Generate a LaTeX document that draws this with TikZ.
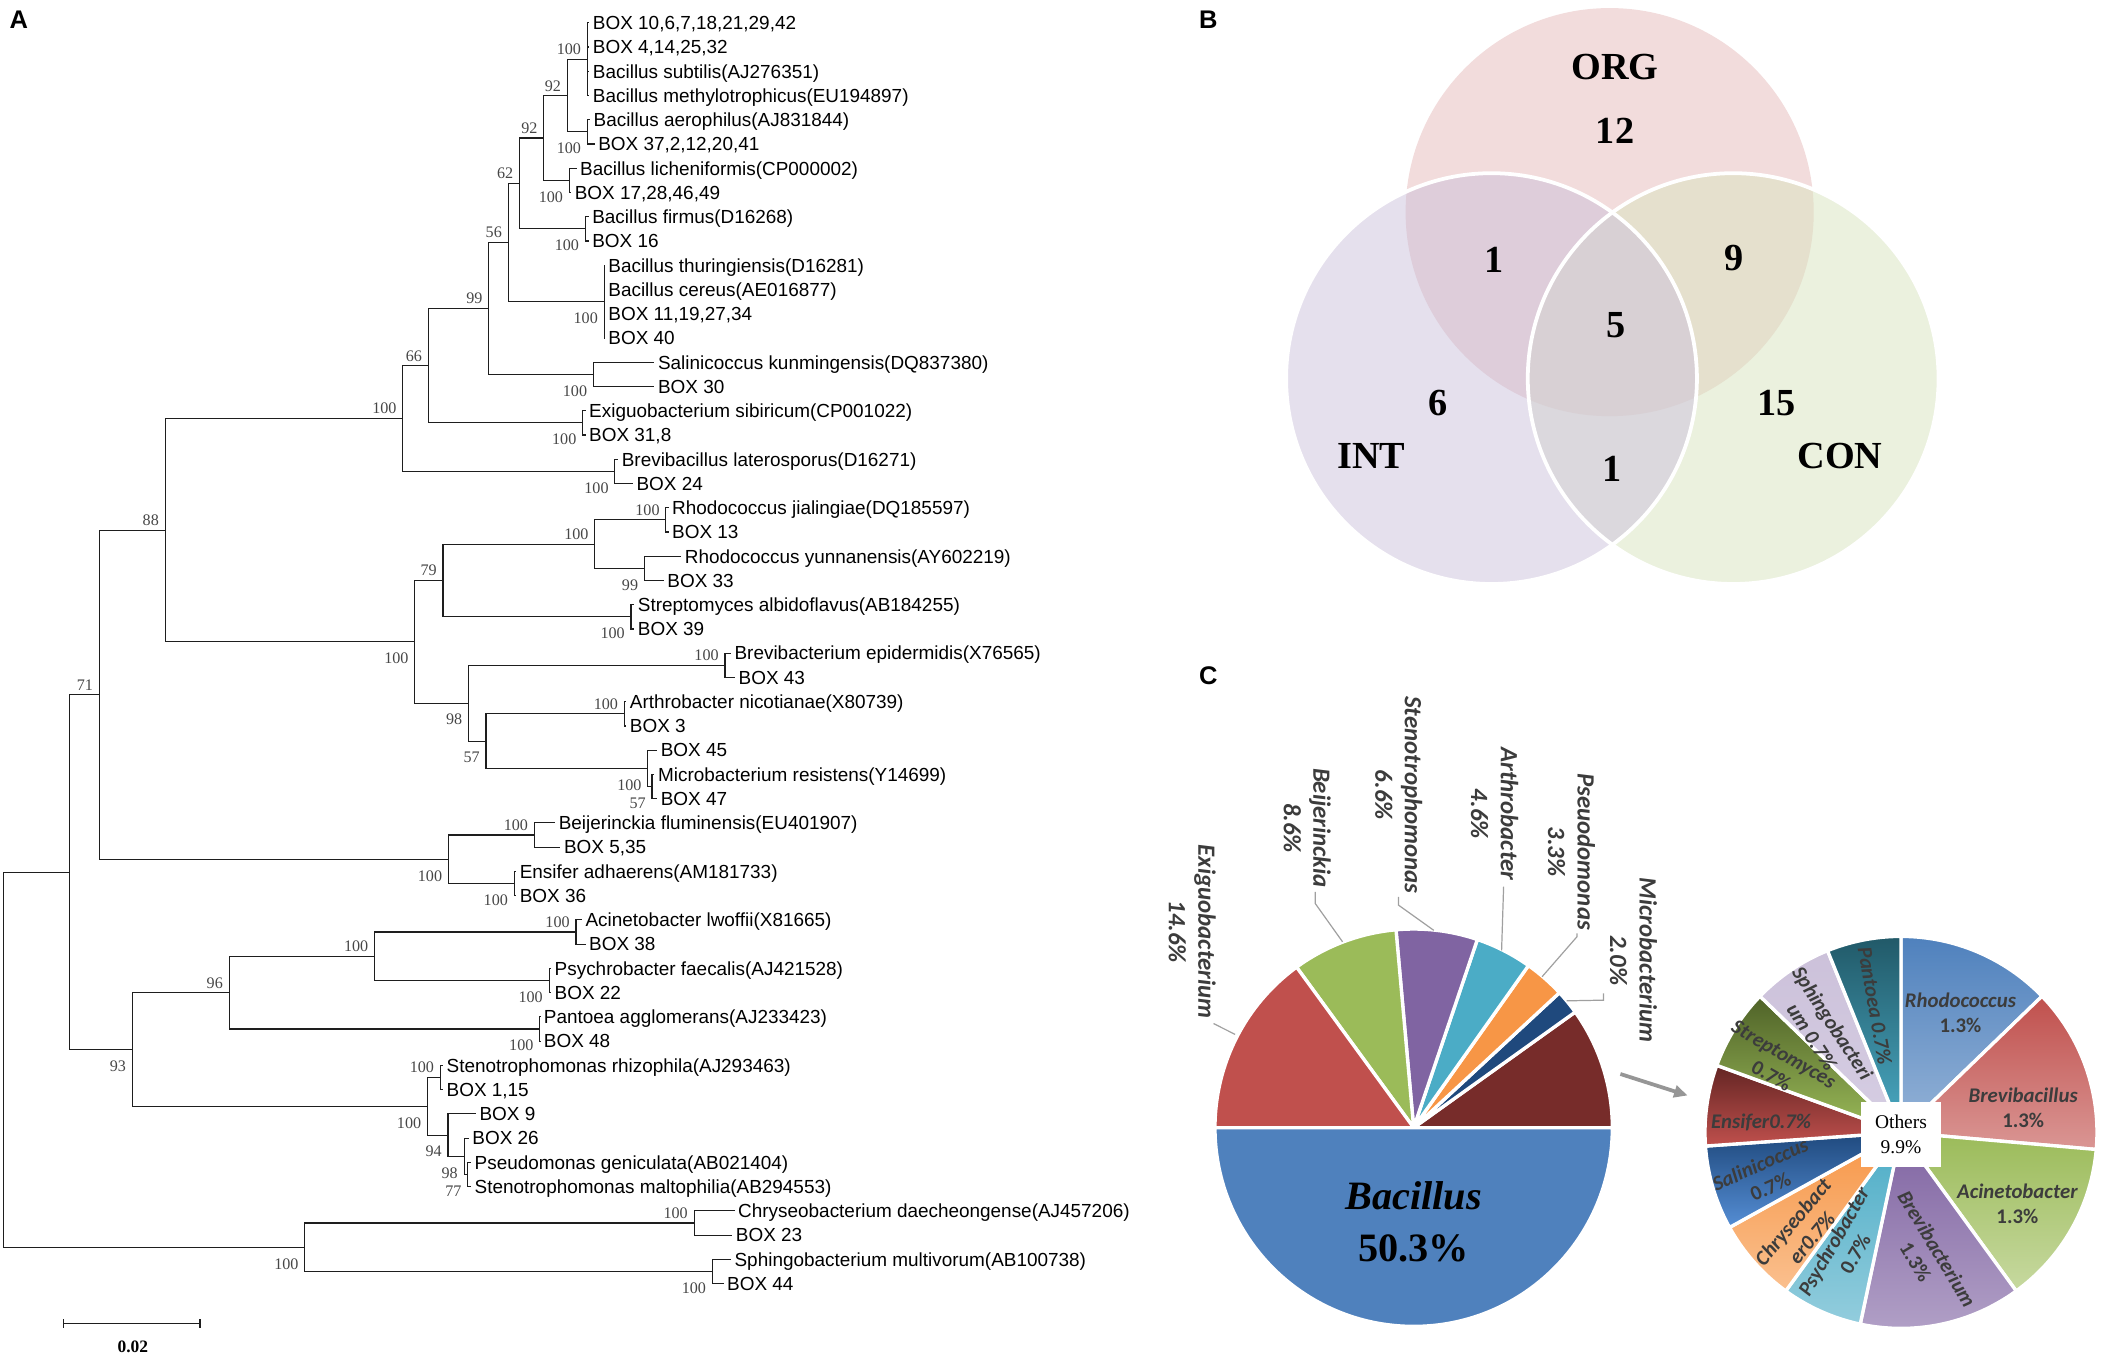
\documentclass[tikz,border=0pt]{standalone}
\usepackage{fontspec}
\setmainfont{Liberation Serif}
\newfontfamily\arialf{Liberation Sans}
\newfontfamily\calf{Carlito}
\usetikzlibrary{arrows.meta}
\definecolor{treeline}{RGB}{30,30,30}
\definecolor{bsgray}{RGB}{70,70,70}
\definecolor{vORG}{RGB}{242,220,220}
\definecolor{vINT}{RGB}{229,224,237}
\definecolor{vCON}{RGB}{235,241,222}
\definecolor{vOI}{RGB}{222,205,218}
\definecolor{vOC}{RGB}{229,224,205}
\definecolor{vIC}{RGB}{219,216,221}
\definecolor{vALL}{RGB}{216,208,212}
\definecolor{pBac}{RGB}{79,129,189}
\definecolor{pExi}{RGB}{192,80,77}
\definecolor{pBei}{RGB}{155,187,89}
\definecolor{pSte}{RGB}{128,100,162}
\definecolor{pArt}{RGB}{75,172,198}
\definecolor{pPse}{RGB}{247,150,70}
\definecolor{pMic}{RGB}{31,73,125}
\definecolor{pOth}{RGB}{119,44,42}
\definecolor{plab}{RGB}{60,60,60}
\definecolor{leadgray}{RGB}{160,160,160}
\definecolor{arrowgray}{RGB}{150,150,150}
\definecolor{rRhoT}{RGB}{79,129,189}\definecolor{rRhoB}{RGB}{149,179,215}
\definecolor{rBrvT}{RGB}{192,80,77}\definecolor{rBrvB}{RGB}{218,150,148}
\definecolor{rAciT}{RGB}{155,187,89}\definecolor{rAciB}{RGB}{199,217,160}
\definecolor{rBtmT}{RGB}{128,100,162}\definecolor{rBtmB}{RGB}{178,161,199}
\definecolor{rPsyT}{RGB}{75,172,198}\definecolor{rPsyB}{RGB}{147,205,221}
\definecolor{rChrT}{RGB}{247,150,70}\definecolor{rChrB}{RGB}{250,192,143}
\definecolor{rSalT}{RGB}{31,73,125}\definecolor{rSalB}{RGB}{85,142,213}
\definecolor{rEnsT}{RGB}{99,37,35}\definecolor{rEnsB}{RGB}{192,80,77}
\definecolor{rStrT}{RGB}{79,98,40}\definecolor{rStrB}{RGB}{155,187,89}
\definecolor{rSphT}{RGB}{204,193,218}\definecolor{rSphB}{RGB}{214,206,227}
\definecolor{rPanT}{RGB}{33,89,104}\definecolor{rPanB}{RGB}{75,172,198}
\newcommand{\mslice}[3]{\filldraw[fill=#3, draw=white, line width=2.5pt] (1053,840) -- ++(#1:148pt) arc[start angle=#1, end angle=#2, radius=148pt] -- cycle;}
\newcommand{\rslice}[4]{\shadedraw[top color=#3, bottom color=#4, draw=white, line width=2.5pt] (1416,843.5) -- ++(#1:146pt) arc[start angle=#1, end angle=#2, radius=146pt] -- cycle;}
\begin{document}
\begin{tikzpicture}[x=1pt,y=-1pt,
  br/.style={draw=treeline, line width=0.85pt},
  leaf/.style={anchor=west, inner xsep=2.5pt, inner ysep=0pt, text height=10.1pt, text depth=0pt, font=\arialf\fontsize{14.1}{16}\selectfont},
  bsa/.style={anchor=east, inner sep=0pt, xshift=-4.5pt, yshift=7.3pt, text=bsgray, font=\fontsize{12}{14}\selectfont},
  bsb/.style={anchor=east, inner sep=0pt, xshift=-4.5pt, yshift=-12.3pt, text=bsgray, font=\fontsize{12}{14}\selectfont},
  panel/.style={font=\arialf\bfseries\fontsize{19}{22}\selectfont, inner sep=0pt},
  venn/.style={font=\bfseries\fontsize{28.5}{30}\selectfont, inner sep=0pt},
  mlab/.style={font=\calf\bfseries\itshape\fontsize{18.5}{22}\selectfont, text=plab, rotate=-90, align=center, inner sep=0pt},
  rlab/.style={font=\calf\bfseries\itshape\fontsize{15.5}{18.5}\selectfont, text=plab, align=center, inner sep=0pt},
  lead/.style={draw=leadgray, line width=0.9pt}]
\useasboundingbox (0,0) rectangle (1565,1010.8);

% ---------------- Panel A: tree ----------------
\node[panel] (pA) at (14,15) {A};
\begin{scope}[shift={(0,17)}, y=-18.06pt]
\coordinate (nA) at (437.5,1.5);
\coordinate (nB) at (437.5,4.5);
\coordinate (n92u) at (422.5,3);
\coordinate (nL) at (424,6.5);
\coordinate (n92l) at (405,4.75);
\coordinate (nF) at (436,8.5);
\coordinate (n62) at (387,6.625);
\coordinate (nCe) at (450,11.5);
\coordinate (n56) at (378.5,9.0625);
\coordinate (nSa) at (442,14.5);
\coordinate (n99) at (364,11.78);
\coordinate (nEx) at (434,16.5);
\coordinate (n66) at (319,14.14);
\coordinate (nBr) at (458,18.5);
\coordinate (n100a) at (300,16.32);
\coordinate (nRj) at (496,20.5);
\coordinate (nRy) at (480,22.5);
\coordinate (nRh) at (443,21.5);
\coordinate (nSt) at (470,24.5);
\coordinate (n79) at (330,23);
\coordinate (nBv) at (540,26.5);
\coordinate (nAr) at (465,28.5);
\coordinate (nMi2) at (485.7,31.5);
\coordinate (nMi) at (482.5,30.75);
\coordinate (n57) at (362,29.625);
\coordinate (n98) at (349,28.06);
\coordinate (n100b) at (309,25.53);
\coordinate (n88) at (123,20.93);
\coordinate (nBe) at (398,33.5);
\coordinate (nEn) at (383,35.5);
\coordinate (n100c) at (334,34.5);
\coordinate (n71) at (74,27.71);
\coordinate (nAc) at (429,37.5);
\coordinate (nPs) at (409,39.5);
\coordinate (n100d) at (279,38.5);
\coordinate (nPa) at (402,41.5);
\coordinate (n96) at (170.7,40);
\coordinate (nSr) at (328,43.5);
\coordinate (nM) at (348.4,47.5);
\coordinate (n98b) at (345.7,46.75);
\coordinate (n94) at (333.7,45.875);
\coordinate (n100e) at (318.4,44.69);
\coordinate (n93) at (98.5,42.34);
\coordinate (nX) at (52,35.03);
\coordinate (nCh) at (517,49.5);
\coordinate (nSp) at (530.6,51.5);
\coordinate (n100f) at (227,50.5);
\coordinate (nR) at (2.7,42.76);

\node[leaf] (t1) at (439,0) {BOX 10,6,7,18,21,29,42};
\node[leaf] (t2) at (439,1) {BOX 4,14,25,32};
\node[leaf] (t3) at (439,2) {Bacillus subtilis(AJ276351)};
\node[leaf] (t4) at (439,3) {Bacillus methylotrophicus(EU194897)};
\node[leaf] (t5) at (439.5,4) {Bacillus aerophilus(AJ831844)};
\node[leaf] (t6) at (443,5) {BOX 37,2,12,20,41};
\node[leaf] (t7) at (429.5,6) {Bacillus licheniformis(CP000002)};
\node[leaf] (t8) at (425.5,7) {BOX 17,28,46,49};
\node[leaf] (t9) at (438.5,8) {Bacillus firmus(D16268)};
\node[leaf] (t10) at (438.5,9) {BOX 16};
\node[leaf] (t11) at (450.5,10) {Bacillus thuringiensis(D16281)};
\node[leaf] (t12) at (450.5,11) {Bacillus cereus(AE016877)};
\node[leaf] (t13) at (450.5,12) {BOX 11,19,27,34};
\node[leaf] (t14) at (450.5,13) {BOX 40};
\node[leaf] (t15) at (487.5,14) {Salinicoccus kunmingensis(DQ837380)};
\node[leaf] (t16) at (487.5,15) {BOX 30};
\node[leaf] (t17) at (436.2,16) {Exiguobacterium sibiricum(CP001022)};
\node[leaf] (t18) at (436.2,17) {BOX 31,8};
\node[leaf] (t19) at (460.5,18) {Brevibacillus laterosporus(D16271)};
\node[leaf] (t20) at (471.5,19) {BOX 24};
\node[leaf] (t21) at (498,20) {Rhodococcus jialingiae(DQ185597)};
\node[leaf] (t22) at (498,21) {BOX 13};
\node[leaf] (t23) at (507.5,22) {Rhodococcus yunnanensis(AY602219)};
\node[leaf] (t24) at (494.5,23) {BOX 33};
\node[leaf] (t25) at (472.5,24) {Streptomyces albidoflavus(AB184255)};
\node[leaf] (t26) at (472.5,25) {BOX 39};
\node[leaf] (t27) at (544.5,26) {Brevibacterium epidermidis(X76565)};
\node[leaf] (t28) at (547.5,27) {BOX 43};
\node[leaf] (t29) at (466.5,28) {Arthrobacter nicotianae(X80739)};
\node[leaf] (t30) at (466.5,29) {BOX 3};
\node[leaf] (t31) at (489.5,30) {BOX 45};
\node[leaf] (t32) at (487.5,31) {Microbacterium resistens(Y14699)};
\node[leaf] (t33) at (489.5,32) {BOX 47};
\node[leaf] (t34) at (413.5,33) {Beijerinckia fluminensis(EU401907)};
\node[leaf] (t35) at (417.5,34) {BOX 5,35};
\node[leaf] (t36) at (384.5,35) {Ensifer adhaerens(AM181733)};
\node[leaf] (t37) at (384.5,36) {BOX 36};
\node[leaf] (t38) at (433.5,37) {Acinetobacter lwoffii(X81665)};
\node[leaf] (t39) at (436.2,38) {BOX 38};
\node[leaf] (t40) at (410.5,39) {Psychrobacter faecalis(AJ421528)};
\node[leaf] (t41) at (410.5,40) {BOX 22};
\node[leaf] (t42) at (402.5,41) {Pantoea agglomerans(AJ233423)};
\node[leaf] (t43) at (402.5,42) {BOX 48};
\node[leaf] (t44) at (330,43) {Stenotrophomonas rhizophila(AJ293463)};
\node[leaf] (t45) at (330,44) {BOX 1,15};
\node[leaf] (t46) at (354.5,45) {BOX 9};
\node[leaf] (t47) at (349.2,46) {BOX 26};
\node[leaf] (t48) at (350.9,47) {Pseudomonas geniculata(AB021404)};
\node[leaf] (t49) at (350.9,48) {Stenotrophomonas maltophilia(AB294553)};
\node[leaf] (t50) at (547.2,49) {Chryseobacterium daecheongense(AJ457206)};
\node[leaf] (t51) at (545.5,50) {BOX 23};
\node[leaf] (t52) at (544.5,51) {Sphingobacterium multivorum(AB100738)};
\node[leaf] (t53) at (539,52) {BOX 44};

\foreach \p/\c in {nA/t1.west,nA/t2.west,nA/t3.west,nA/t4.west,nB/t5.west,nB/t6.west,
  n92u/nA,n92u/nB,nL/t7.west,nL/t8.west,n92l/n92u,n92l/nL,nF/t9.west,nF/t10.west,
  n62/n92l,n62/nF,nCe/t11.west,nCe/t12.west,nCe/t13.west,nCe/t14.west,n56/n62,n56/nCe,
  nSa/t15.west,nSa/t16.west,n99/n56,n99/nSa,nEx/t17.west,nEx/t18.west,n66/n99,n66/nEx,
  nBr/t19.west,nBr/t20.west,n100a/n66,n100a/nBr,nRj/t21.west,nRj/t22.west,
  nRy/t23.west,nRy/t24.west,nRh/nRj,nRh/nRy,nSt/t25.west,nSt/t26.west,n79/nRh,n79/nSt,
  nBv/t27.west,nBv/t28.west,nAr/t29.west,nAr/t30.west,nMi2/t32.west,nMi2/t33.west,
  nMi/t31.west,nMi/nMi2,n57/nAr,n57/nMi,n98/nBv,n98/n57,n100b/n79,n100b/n98,
  n88/n100a,n88/n100b,nBe/t34.west,nBe/t35.west,nEn/t36.west,nEn/t37.west,
  n100c/nBe,n100c/nEn,n71/n88,n71/n100c,nAc/t38.west,nAc/t39.west,nPs/t40.west,nPs/t41.west,
  n100d/nAc,n100d/nPs,nPa/t42.west,nPa/t43.west,n96/n100d,n96/nPa,nSr/t44.west,nSr/t45.west,
  nM/t48.west,nM/t49.west,n98b/t47.west,n98b/nM,n94/t46.west,n94/n98b,n100e/nSr,n100e/n94,
  n93/n96,n93/n100e,nX/n71,nX/n93,nCh/t50.west,nCh/t51.west,nSp/t52.west,nSp/t53.west,
  n100f/nCh,n100f/nSp,nR/nX,nR/n100f}
  \draw[br] (\p) |- (\c);

\foreach \n/\v in {nA/100,n92u/92,n92l/92,n62/62,n56/56,n99/99,n66/66,n100a/100,n88/88,
  nRj/100,nRh/100,n79/79,nBv/100,nAr/100,nBe/100,n71/71,nAc/100,n100d/100,n96/96,nSr/100,nCh/100}
  \node[bsa] (b\n) at (\n) {\v};
\foreach \n/\v in {nB/100,nL/100,nF/100,nCe/100,nSa/100,nEx/100,nBr/100,nRy/99,nSt/100,
  n100b/100,n98/98,n57/57,nMi/100,nMi2/57,n100c/100,nEn/100,nPs/100,nPa/100,n93/93,
  n100e/100,n94/94,n98b/98,nM/77,n100f/100,nSp/100}
  \node[bsb] (b\n) at (\n) {\v};
\end{scope}

% scale bar
\coordinate (sb1) at (47,986);
\coordinate (sb2) at (149,986);
\draw[br] (sb1) -- (sb2);
\draw[br] ([yshift=3.5pt]sb1) -- ([yshift=-3.5pt]sb1);
\draw[br] ([yshift=3.5pt]sb2) -- ([yshift=-3.5pt]sb2);
\node[font=\bfseries\fontsize{13}{15}\selectfont, inner sep=0pt] (sbl) at (99,1003) {0.02};

% ---------------- Panel B: Venn ----------------
\node[panel] (pB) at (900,15) {B};
\fill[vORG] (1199,158) circle[radius=152pt];
\fill[vINT] (1111,282) circle[radius=153pt];
\fill[vCON] (1291,282) circle[radius=153pt];
\begin{scope}
  \clip (1199,158) circle[radius=152pt];
  \fill[vOI] (1111,282) circle[radius=153pt];
  \fill[vOC] (1291,282) circle[radius=153pt];
\end{scope}
\begin{scope}
  \clip (1111,282) circle[radius=153pt];
  \fill[vIC] (1291,282) circle[radius=153pt];
\end{scope}
\begin{scope}
  \clip (1199,158) circle[radius=152pt];
  \clip (1111,282) circle[radius=153pt];
  \fill[vALL] (1291,282) circle[radius=153pt];
\end{scope}
\draw[white, line width=2.8pt] (1111,282) circle[radius=153pt];
\draw[white, line width=2.8pt] (1291,282) circle[radius=153pt];
\node[venn] (vorg) at (1203,50) {ORG};
\node[venn] (v12) at (1203,97.4) {12};
\node[venn] (v1a) at (1113,193.6) {1};
\node[venn] (v9) at (1292,192) {9};
\node[venn] (v5) at (1204,242) {5};
\node[venn] (v6) at (1071,300) {6};
\node[venn] (v15) at (1323,300) {15};
\node[venn] (vint) at (1021.6,340) {INT};
\node[venn] (vcon) at (1370.6,340) {CON};
\node[venn] (v1b) at (1200.7,349) {1};

% ---------------- Panel C: pies ----------------
\node[panel] (pC) at (900,503) {C};
\mslice{0}{35.6}{pOth}
\mslice{35.6}{42.8}{pMic}
\mslice{42.8}{54.7}{pPse}
\mslice{54.7}{71.3}{pArt}
\mslice{71.3}{95.1}{pSte}
\mslice{95.1}{126.1}{pBei}
\mslice{126.1}{180}{pExi}
\mslice{180}{360}{pBac}
\node[font=\bfseries\itshape\fontsize{30}{34}\selectfont, inner sep=0pt] (bac) at (1053,891) {Bacillus};
\node[font=\bfseries\fontsize{30}{34}\selectfont, inner sep=0pt] (bacp) at (1053,930) {50.3\%};

\node[mlab] (mExi) at (888,694) {Exiguobacterium\\14.6\%};
\node[mlab] (mBei) at (973.7,616.8) {Beijerinckia\\8.6\%};
\node[mlab] (mSte) at (1041.8,592.1) {Stenotrophomonas\\6.6\%};
\node[mlab] (mArt) at (1113.3,606.2) {Arthrobacter\\4.6\%};
\node[mlab] (mPse) at (1170.5,634.4) {Pseuodomonas\\3.3\%};
\node[mlab] (mMic) at (1216.7,715.3) {Microbacterium\\2.0\%};

\coordinate (lExi1) at (903.9,762.4); \coordinate (lExi2) at (920,770.5);
\coordinate (lBei1) at (979.7,664.3); \coordinate (lBei2) at (979.7,673); \coordinate (lBei3) at (1000,701.5);
\coordinate (lSte1) at (1041.7,668); \coordinate (lSte2) at (1041.7,674.2); \coordinate (lSte3) at (1068,693);
\coordinate (lArt1) at (1120,660.5); \coordinate (lArt2) at (1118.5,708);
\coordinate (lPse1) at (1174.6,695.3); \coordinate (lPse2) at (1174.6,697.8); \coordinate (lPse3) at (1148.7,727.5);
\coordinate (lMic1) at (1194.4,740); \coordinate (lMic2) at (1194.4,745); \coordinate (lMic3) at (1167,745.5);
\draw[lead] (lExi1) -- (lExi2);
\draw[lead] (lBei1) -- (lBei2) -- (lBei3);
\draw[lead] (lSte1) -- (lSte2) -- (lSte3);
\draw[lead] (lArt1) -- (lArt2);
\draw[lead] (lPse1) -- (lPse2) -- (lPse3);
\draw[lead] (lMic1) -- (lMic2) -- (lMic3);

\coordinate (arS) at (1207,800);
\coordinate (arE) at (1257,816);
\draw[arrowgray, line width=2.8pt, -{Triangle[length=10pt,width=9pt]}] (arS) -- (arE);

\rslice{44}{90}{rRhoT}{rRhoB}
\rslice{-5}{44}{rBrvT}{rBrvB}
\rslice{-54}{-5}{rAciT}{rAciB}
\rslice{-102}{-54}{rBtmT}{rBtmB}
\rslice{-126}{-102}{rPsyT}{rPsyB}
\rslice{-151}{-126}{rChrT}{rChrB}
\rslice{-176}{-151}{rSalT}{rSalB}
\rslice{160}{184}{rEnsT}{rEnsB}
\rslice{136}{160}{rStrT}{rStrB}
\rslice{112}{136}{rSphT}{rSphB}
\rslice{90}{112}{rPanT}{rPanB}

\node[fill=white, minimum width=59pt, minimum height=49pt, align=center, inner sep=0pt, font=\fontsize{14.5}{18}\selectfont] (oth) at (1416,845) {Others\\9.9\%};

\node[rlab] (rRho) at (1460.3,754.5) {Rhodococcus\\{\upshape 1.3\%}};
\node[rlab] (rBrv) at (1507,825) {Brevibacillus\\{\upshape 1.3\%}};
\node[rlab] (rAci) at (1502.7,896.5) {Acinetobacter\\{\upshape 1.3\%}};
\node[rlab, rotate=-59] (rBtm) at (1434.9,935) {Brevibacterium\\{\upshape 1.3\%}};
\node[rlab, rotate=60] (rPsy) at (1373.7,929.4) {Psychrobacter\\{\upshape 0.7\%}};
\node[rlab, rotate=50] (rChr) at (1342.4,916) {Chryseobact\\er0.7\%};
\node[rlab, rotate=24] (rSal) at (1314.9,875.5) {Salinicoccus\\{\upshape 0.7\%}};
\node[rlab] (rEns) at (1311.8,836) {Ensifer0.7\%};
\node[rlab, rotate=-30] (rStr) at (1324.1,793.3) {Streptomyces\\{\upshape 0.7\%}};
\node[rlab, rotate=-57] (rSph) at (1357.5,767.3) {Sphingobacteri\\um 0.7\%};
\node[rlab, rotate=-80] (rPan) at (1396.6,749) {Pantoea 0.7\%};
\end{tikzpicture}
\end{document}
